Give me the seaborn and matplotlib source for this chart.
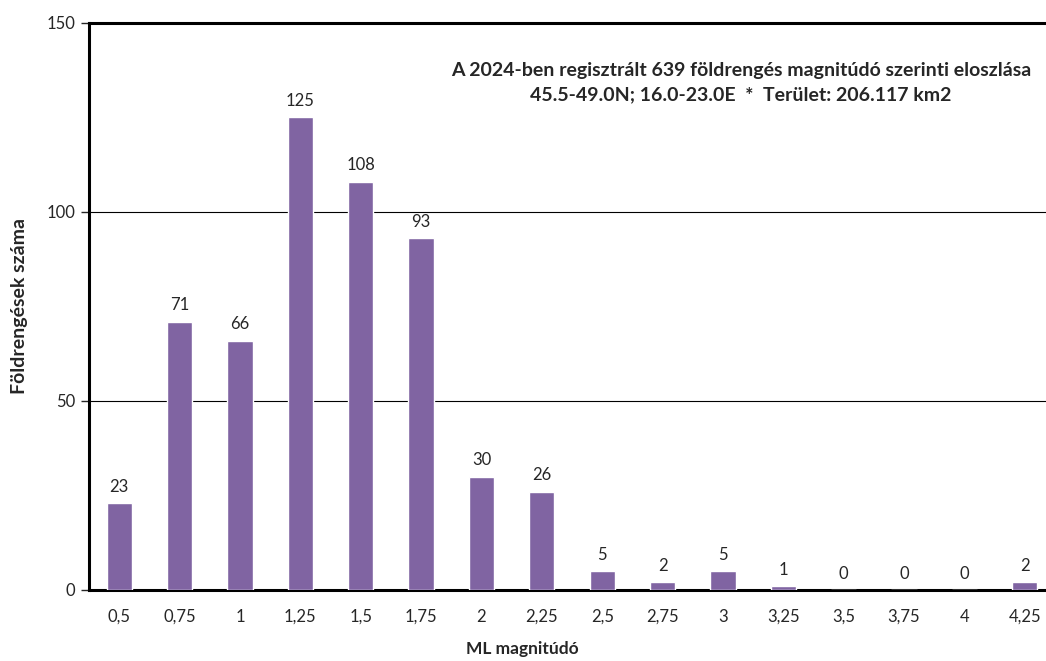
import pandas as pd
import seaborn as sns
import matplotlib.pyplot as plt

# magnitude bins and counts (2024)
magnitudes = ['0,5', '0,75', '1', '1,25', '1,5', '1,75', '2', '2,25', '2,5',
              '2,75', '3', '3,25', '3,5', '3,75', '4', '4,25']
counts = [23, 71, 66, 125, 108, 93, 30, 26, 5, 2, 5, 1, 0, 0, 0, 2]

df = pd.DataFrame({'mag': magnitudes, 'n': counts})

sns.set_style('white')
plt.rcParams['font.family'] = ['Lato', 'DejaVu Sans']

fig = plt.figure(figsize=(10.46, 6.61), dpi=100)
ax = fig.add_axes([89 / 1046, 71 / 661, 966 / 1046, 567 / 661])

sns.barplot(data=df, x='mag', y='n', color='#8064A2', saturation=1,
            width=0.42, ax=ax, zorder=3)
ax.bar_label(ax.containers[0], labels=[str(c) for c in counts],
             padding=6, fontsize=12)

ax.set_ylim(0, 150)
ax.set_xlim(-0.5, len(magnitudes) - 0.5)
ax.set_yticks([0, 50, 100, 150])
ax.yaxis.grid(True, color='black', linewidth=0.8)
ax.set_axisbelow(True)
ax.tick_params(axis='y', which='both', left=True, length=6, width=1,
               labelsize=12, pad=4)
ax.tick_params(axis='x', bottom=False, labelsize=12, pad=10)

for s in ['left', 'bottom', 'top']:
    ax.spines[s].set_linewidth(2.2)
    ax.spines[s].set_color('black')
ax.spines['right'].set_visible(False)

ax.set_xlabel('ML magnitúdó', fontsize=12.5, fontweight='bold')
ax.xaxis.set_label_coords(0.449, -0.09)
ax.set_ylabel('Földrengések száma', fontsize=14, fontweight='bold')
ax.yaxis.set_label_coords(-0.063, 0.5)

ax.text(0.675, 0.895,
        'A 2024-ben regisztrált 639 földrengés magnitúdó szerinti eloszlása\n'
        '45.5-49.0N; 16.0-23.0E  *  Terület: 206.117 km2',
        transform=ax.transAxes, ha='center', va='center', fontsize=14,
        fontweight='bold', linespacing=1.5)

fig.savefig('out.png', dpi=100)
